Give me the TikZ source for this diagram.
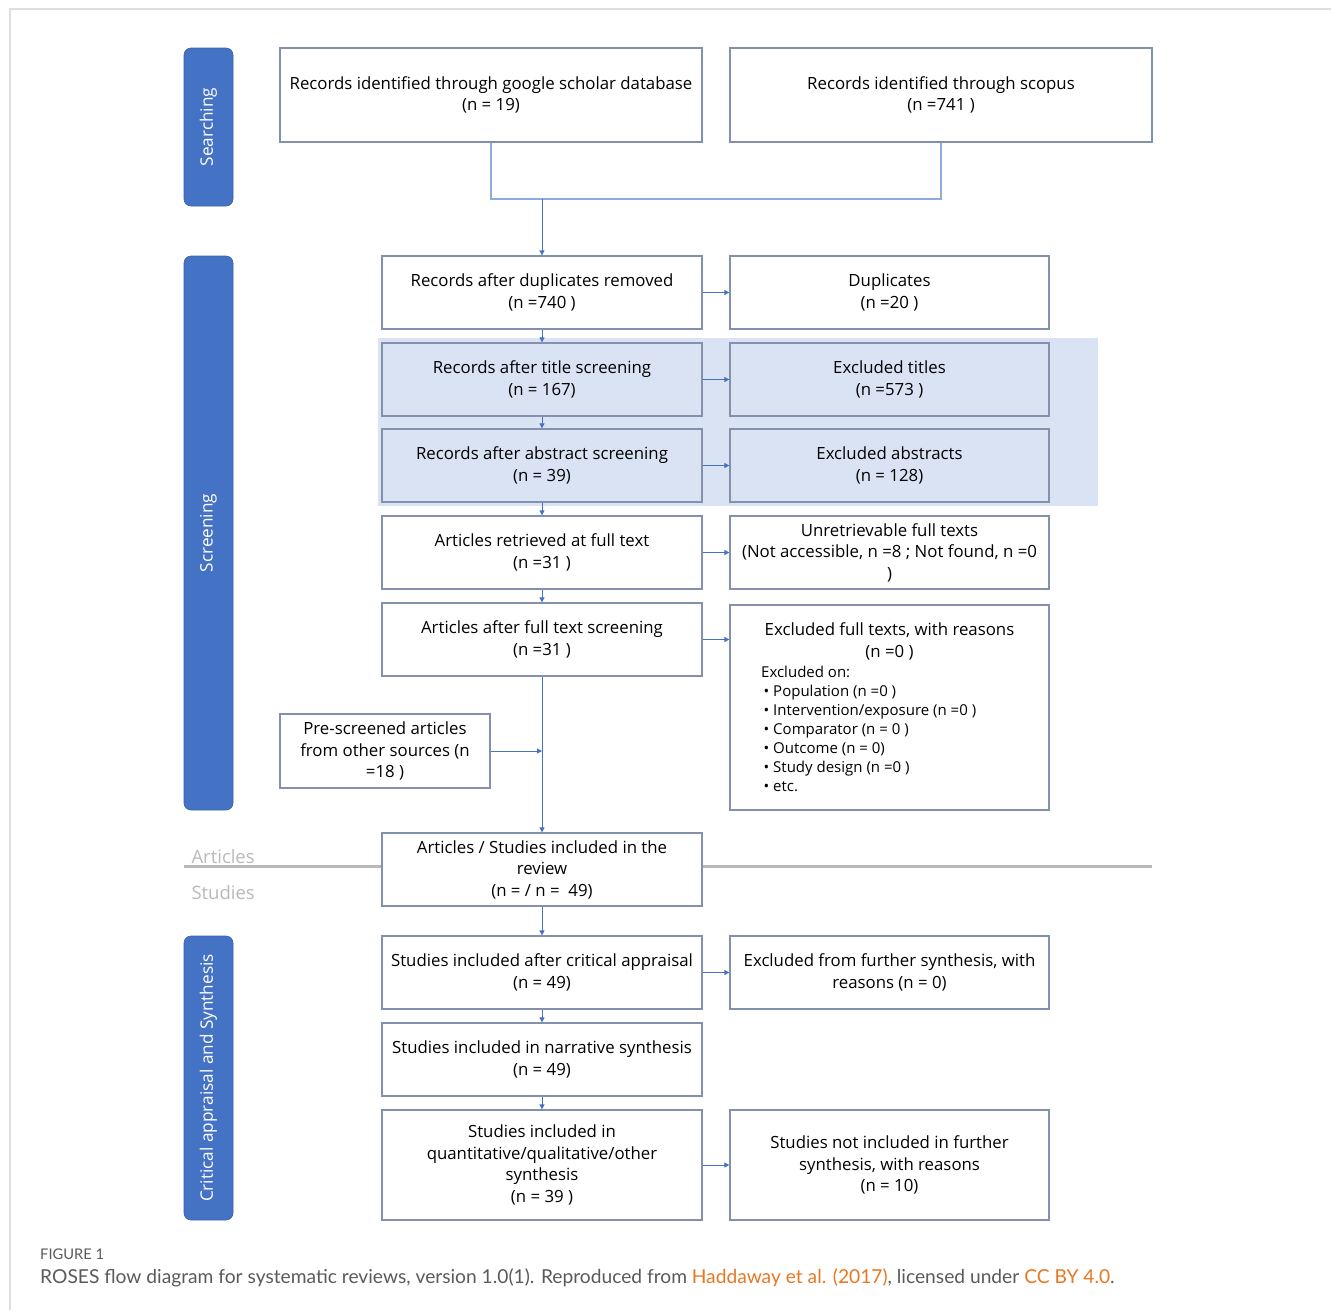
\documentclass[tikz,border=0pt]{standalone}
\usepackage{fontspec}
\setmainfont{Open Sans}
\newfontfamily\capfont{Lato}
\usetikzlibrary{arrows.meta}
\definecolor{barblue}{RGB}{68,114,196}
\definecolor{boxborder}{RGB}{132,145,172}
\definecolor{lightband}{RGB}{218,227,243}
\definecolor{framegrey}{RGB}{222,222,222}
\definecolor{capgrey}{RGB}{90,90,90}
\definecolor{linkorange}{RGB}{232,119,34}
\definecolor{sepgrey}{RGB}{185,185,185}
\definecolor{linkline}{RGB}{143,170,220}
\begin{document}
\begin{tikzpicture}[x=1pt,y=-1pt,
  box/.style={draw=boxborder, line width=1.3pt, fill=white, align=center, inner sep=0pt,
    font=\fontsize{16.8}{21.5}\selectfont},
  lbox/.style={box, minimum width=320, minimum height=73},
  rbox/.style={box, minimum width=319, minimum height=73},
  bar/.style={fill=barblue, draw=barblue!85!black, line width=0.6pt, rounded corners=7pt},
  bartext/.style={rotate=90, text=white, font=\fontsize{17.2}{20}\selectfont},
  flow/.style={draw=barblue, line width=0.9pt, -{Triangle[length=5pt,width=5pt]}},
  plain/.style={draw=linkline, line width=1.2pt},
  side/.style={anchor=west, text=sepgrey, font=\fontsize{18.5}{20}\selectfont}
]
\useasboundingbox (0,0) rectangle (1331,1310);
% frame
\draw[framegrey, line width=1.2pt] (10,1310) -- (10,9) -- (1331,9);
% side bars
\path[bar] (184,48) rectangle (233,206);
\node[bartext] (lsearch) at (208.5,127) {Searching};
\path[bar] (184,256) rectangle (233,810);
\node[bartext] (lscreen) at (208.5,533) {Screening};
\path[bar] (184,936) rectangle (233,1220);
\node[bartext] (lcrit) at (208.5,1078) {Critical appraisal and Synthesis};
% shaded band
\fill[lightband] (378,338) rectangle (1098,506);
% separator line
\draw[sepgrey, line width=3pt] (184,866) -- (1152,866);
\node[side] (tart) at (188,857) {Articles};
\node[side] (tstu) at (188,893) {Studies};
% boxes
\node[box, minimum width=422, minimum height=94] (gs) at (491,95) {Records identified through google scholar database\\(n = 19)};
\node[box, minimum width=422, minimum height=94] (sc) at (941,95) {Records identified through scopus\\(n =741 )};
\node[lbox] (dup) at (542,292.5) {Records after duplicates removed\\(n =740 )};
\node[rbox] (dupx) at (889.5,292.5) {Duplicates\\(n =20 )};
\node[lbox, fill=lightband] (tit) at (542,379.5) {Records after title screening\\(n = 167)};
\node[rbox, fill=lightband] (titx) at (889.5,379.5) {Excluded titles\\(n =573 )};
\node[lbox, fill=lightband] (abs) at (542,465.5) {Records after abstract screening\\(n = 39)};
\node[rbox, fill=lightband] (absx) at (889.5,465.5) {Excluded abstracts\\(n = 128)};
\node[lbox] (ret) at (542,552.5) {Articles retrieved at full text\\(n =31 )};
\node[rbox] (retx) at (889.5,552.5) {Unretrievable full texts\\(Not accessible, n =8 ; Not found, n =0\\)};
\node[lbox] (fts) at (542,639.5) {Articles after full text screening\\(n =31 )};
\node[rbox, minimum height=205] (ftsx) at (889.5,707.5) {};
\node[align=center, inner sep=0pt, font=\fontsize{16.8}{21.5}\selectfont] (ftsxt) at (889.5,641.5) {Excluded full texts, with reasons\\(n =0 )};
\node[anchor=north west, align=left, inner sep=0pt, font=\fontsize{15}{19}\selectfont] (ftsxl) at (761,666) {Excluded on:\\
\,\textbullet\ Population (n =0 )\\
\,\textbullet\ Intervention/exposure (n =0 )\\
\,\textbullet\ Comparator (n = 0 )\\
\,\textbullet\ Outcome (n = 0)\\
\,\textbullet\ Study design (n =0 )\\
\,\textbullet\ etc.};
\node[box, minimum width=210, minimum height=74] (pre) at (385,751) {Pre-screened articles\\from other sources (n\\=18 )};
\node[lbox] (inc) at (542,869.5) {Articles / Studies included in the\\review\\(n = / n = \ 49)};
\node[lbox] (cra) at (542,972.5) {Studies included after critical appraisal\\(n = 49)};
\node[rbox] (crax) at (889.5,972.5) {Excluded from further synthesis, with\\reasons (n = 0)};
\node[lbox] (nar) at (542,1059.5) {Studies included in narrative synthesis\\(n = 49)};
\node[lbox, minimum height=110] (qua) at (542,1165) {Studies included in\\quantitative/qualitative/other\\synthesis\\(n = 39 )};
\node[rbox, minimum height=110] (quax) at (889.5,1165) {Studies not included in further\\synthesis, with reasons\\(n = 10)};
% connectors
\coordinate (merge) at (542,199);
\draw[plain] (gs.south) |- (merge) -| (sc.south);
\draw[flow] (merge) -- (dup.north);
\draw[flow] (dup.south) -- (tit.north);
\draw[flow] (tit.south) -- (abs.north);
\draw[flow] (abs.south) -- (ret.north);
\draw[flow] (ret.south) -- (fts.north);
\draw[flow] (fts.south) -- (inc.north);
\coordinate (join) at (542,751);
\draw[flow] (pre.east) -- (join);
\draw[flow] (inc.south) -- (cra.north);
\draw[flow] (cra.south) -- (nar.north);
\draw[flow] (nar.south) -- (qua.north);
\draw[flow] (dup.east) -- (dupx.west);
\draw[flow] (tit.east) -- (titx.west);
\draw[flow] (abs.east) -- (absx.west);
\draw[flow] (ret.east) -- (retx.west);
\draw[flow] (fts.east) -- (fts.east -| ftsx.west);
\draw[flow] (cra.east) -- (crax.west);
\draw[flow] (qua.east) -- (quax.west);
% caption
\node[anchor=west, inner sep=0pt, text=capgrey, font=\capfont\fontsize{14.7}{16}\selectfont] (fig) at (40,1254) {FIGURE 1};
\node[anchor=west, inner sep=0pt, text=capgrey, font=\capfont\fontsize{19.2}{22}\selectfont] (cap) at (40,1278) {ROSES flow diagram for systematic reviews, version 1.0(1). Reproduced from \textcolor{linkorange}{Haddaway et al. (2017)}, licensed under \textcolor{linkorange}{CC BY 4.0}.};
\end{tikzpicture}
\end{document}
